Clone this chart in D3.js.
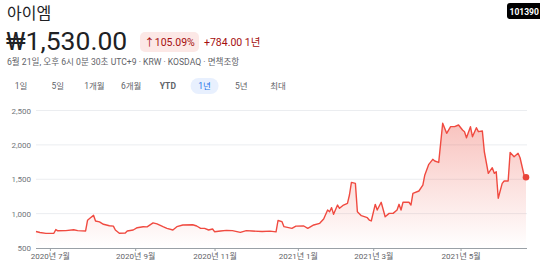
<!DOCTYPE html>
<html>
<head>
<meta charset="utf-8">
<script src="https://cdn.jsdelivr.net/npm/d3@7"></script>
<style>
  html, body { margin: 0; padding: 0; background: #fff; }
  svg { display: block; font-family: Roboto, "Noto Sans CJK KR", sans-serif; }
</style>
</head>
<body>
<div id="chart"></div>
<script>
// --- data ---------------------------------------------------------------
const title = '아이엠';
const price = '₩1,530.00';
const changePct = '↑105.09%';
const changeAbs = '+784.00 1년';
const ticker = '101390';
const subline = '6월 21일, 오후 6시 0분 30초 UTC+9 · KRW · KOSDAQ · 면책조항';
const ranges = ['1일', '5일', '1개월', '6개월', 'YTD', '1년', '5년', '최대'];
const activeRange = '1년';

const firstDay = '2020-06-22';
const lastDay = '2021-06-21';
// KRX closed days inside the window
const holidays = ['2020-08-17', '2020-09-30', '2020-10-01', '2020-10-02', '2020-10-09',
  '2020-12-25', '2020-12-31', '2021-01-01', '2021-02-11', '2021-02-12', '2021-03-01',
  '2021-05-05', '2021-05-19'];

const yTicks = [500, 1000, 1500, 2000, 2500];
const monthTicks = ['2020-07-01', '2020-09-01', '2020-11-01', '2021-01-01', '2021-03-01', '2021-05-01'];
const monthLabels = ['2020년 7월', '2020년 9월', '2020년 11월', '2021년 1월', '2021년 3월', '2021년 5월'];

const dates = [
  '2020-06-22', '2020-06-24', '2020-06-29', '2020-07-03', '2020-07-06', '2020-07-07', '2020-07-13',
  '2020-07-17', '2020-07-21', '2020-07-27', '2020-07-28', '2020-07-29', '2020-07-31', '2020-08-03',
  '2020-08-05', '2020-08-07', '2020-08-12', '2020-08-14', '2020-08-18', '2020-08-20', '2020-08-25',
  '2020-08-26', '2020-08-31', '2020-09-02', '2020-09-07', '2020-09-09', '2020-09-14', '2020-09-16',
  '2020-09-21', '2020-09-23', '2020-09-28', '2020-10-05', '2020-10-08', '2020-10-16', '2020-10-20',
  '2020-10-22', '2020-10-26', '2020-10-28', '2020-10-30', '2020-11-02', '2020-11-05', '2020-11-10',
  '2020-11-13', '2020-11-19', '2020-11-24', '2020-11-27', '2020-12-04', '2020-12-10', '2020-12-15',
  '2020-12-16', '2020-12-18', '2020-12-21', '2020-12-28', '2020-12-30', '2021-01-07', '2021-01-11',
  '2021-01-14', '2021-01-19', '2021-01-21', '2021-01-25', '2021-01-26', '2021-01-27', '2021-01-28',
  '2021-02-01', '2021-02-02', '2021-02-04', '2021-02-08', '2021-02-09', '2021-02-10', '2021-02-16',
  '2021-02-17', '2021-02-19', '2021-02-24', '2021-02-25', '2021-02-26', '2021-03-03', '2021-03-04',
  '2021-03-08', '2021-03-10', '2021-03-12', '2021-03-16', '2021-03-18', '2021-03-19', '2021-03-22',
  '2021-03-23', '2021-03-26', '2021-03-29', '2021-03-30', '2021-04-02', '2021-04-06', '2021-04-07',
  '2021-04-09', '2021-04-13', '2021-04-14', '2021-04-16', '2021-04-20', '2021-04-22', '2021-04-26',
  '2021-04-28', '2021-04-30', '2021-05-04', '2021-05-06', '2021-05-07', '2021-05-11', '2021-05-12',
  '2021-05-14', '2021-05-17', '2021-05-20', '2021-05-21', '2021-05-25', '2021-05-27', '2021-05-28',
  '2021-05-31', '2021-06-01', '2021-06-03', '2021-06-04', '2021-06-08', '2021-06-09', '2021-06-11',
  '2021-06-15', '2021-06-16', '2021-06-18', '2021-06-21'
];
const closes = [
  740, 725, 712, 715, 768, 750, 752,
  765, 752, 748, 905, 930, 975, 893,
  880, 845, 824, 818, 762, 714, 718,
  747, 762, 795, 810, 808, 865, 850,
  810, 786, 762, 810, 835, 838, 820,
  786, 786, 762, 776, 737, 747, 757,
  752, 728, 752, 747, 740, 745, 735,
  900, 883, 810, 786, 818, 820, 786,
  835, 859, 922, 1053, 1028, 1087, 990,
  1125, 1077, 1125, 1150, 1271, 1455, 1440,
  1028, 970, 941, 907, 893, 1135, 1053,
  1165, 955, 1004, 1004, 1053, 1135, 1053,
  1165, 1165, 1125, 1295, 1329, 1416, 1562,
  1717, 1790, 1765, 1745, 2314, 2168, 2265,
  2265, 2289, 2216, 2192, 2104, 2265, 2119,
  2250, 2192, 2202, 1900, 1586, 1668, 1586,
  1610, 1223, 1440, 1475, 1475, 1890, 1828,
  1877, 1813, 1562, 1530
];

// --- trading calendar ---------------------------------------------------
const iso = d3.utcFormat('%Y-%m-%d');
const tradingDays = d3.utcDays(new Date(firstDay), d3.utcDay.offset(new Date(lastDay), 1))
  .filter(d => d.getUTCDay() !== 0 && d.getUTCDay() !== 6 && !holidays.includes(iso(d)))
  .map(iso);
const dayIndex = new Map(tradingDays.map((d, i) => [d, i]));
const firstOnOrAfter = day => tradingDays.findIndex(d => d >= day);

const series = dates.map((d, i) => ({ idx: dayIndex.get(d), value: closes[i] }));

// --- drawing ------------------------------------------------------------
const width = 540, height = 265;
const svg = d3.select('#chart').append('svg')
  .attr('width', width)
  .attr('height', height);

// header
svg.append('text').attr('x', 7).attr('y', 19)
  .attr('font-size', 16).attr('fill', '#202124').text(title);
svg.append('text').attr('x', 6).attr('y', 50)
  .attr('font-size', 26.5).attr('fill', '#202124').text(price);

svg.append('rect').attr('x', 140).attr('y', 32).attr('width', 59).attr('height', 20)
  .attr('rx', 5).attr('fill', '#fce8e6');
svg.append('text').attr('x', 169.5).attr('y', 46)
  .attr('text-anchor', 'middle').attr('font-size', 10.5).attr('fill', '#a50e0e').text(changePct);
svg.append('text').attr('x', 204).attr('y', 46)
  .attr('font-size', 10.5).attr('fill', '#a50e0e').text(changeAbs);

svg.append('rect').attr('x', 507).attr('y', 3).attr('width', 40).attr('height', 16)
  .attr('rx', 3).attr('fill', '#000');
svg.append('text').attr('x', 509.5).attr('y', 14.5)
  .attr('font-size', 8.5).attr('font-weight', 'bold').attr('fill', '#fff').text(ticker);

svg.append('text').attr('x', 7).attr('y', 65)
  .attr('font-size', 8.6).attr('fill', '#5f6368').text(subline);

const tabX = d3.scalePoint().domain(ranges).range([21, 278]);
const tabs = svg.append('g');
tabs.append('rect')
  .attr('x', tabX(activeRange) - 14).attr('y', 78).attr('width', 28).attr('height', 16)
  .attr('rx', 8).attr('fill', '#e8f0fe');
tabs.selectAll('text.tab')
  .data(ranges)
  .enter()
  .append('text')
  .attr('class', 'tab')
  .attr('x', d => tabX(d))
  .attr('y', 89)
  .attr('text-anchor', 'middle')
  .attr('font-size', 8.5)
  .attr('font-weight', d => d === 'YTD' ? 'bold' : 'normal')
  .attr('fill', d => d === activeRange ? '#1a73e8' : '#5f6368')
  .text(d => d);

// chart
const x = d3.scaleLinear().domain([0, tradingDays.length - 1]).range([36, 526]);
const y = d3.scaleLinear().domain([500, 2500]).range([248, 110.5]);

const grid = svg.append('g');
grid.selectAll('line')
  .data(yTicks.slice(1))
  .enter()
  .append('line')
  .attr('x1', 36).attr('x2', 527)
  .attr('y1', d => y(d)).attr('y2', d => y(d))
  .attr('stroke', '#ebedf0').attr('stroke-width', 1);

const yAxis = svg.append('g').attr('transform', 'translate(31,0)')
  .call(d3.axisLeft(y).tickValues(yTicks).tickSize(0).tickPadding(0).tickFormat(d3.format(',')));
yAxis.select('.domain').remove();
yAxis.selectAll('text').attr('font-size', 8).attr('fill', '#70757a')
  .attr('font-family', 'Roboto, sans-serif');

const xAxis = svg.append('g').attr('transform', `translate(0,${y(500)})`)
  .call(d3.axisBottom(x)
    .tickValues(monthTicks.map(firstOnOrAfter))
    .tickSize(3).tickPadding(2)
    .tickFormat((d, i) => monthLabels[i]));
xAxis.select('.domain').attr('d', `M36,0.5H527`).attr('stroke', '#9aa0a6');
xAxis.selectAll('.tick line').attr('stroke', '#9aa0a6');
xAxis.selectAll('text').attr('font-size', 8).attr('fill', '#5f6368')
  .attr('font-family', 'Roboto, "Noto Sans CJK KR", sans-serif');

const defs = svg.append('defs');
const grad = defs.append('linearGradient')
  .attr('id', 'fillGrad')
  .attr('gradientUnits', 'userSpaceOnUse')
  .attr('x1', 0).attr('x2', 0)
  .attr('y1', y(d3.max(closes))).attr('y2', y(500));
grad.append('stop').attr('offset', 0).attr('stop-color', '#ea4335').attr('stop-opacity', 0.32);
grad.append('stop').attr('offset', 1).attr('stop-color', '#ea4335').attr('stop-opacity', 0);

svg.append('path')
  .datum(series)
  .attr('fill', 'url(#fillGrad)')
  .attr('d', d3.area().x(d => x(d.idx)).y0(y(500)).y1(d => y(d.value)));

svg.append('path')
  .datum(series)
  .attr('fill', 'none')
  .attr('stroke', '#f04a40')
  .attr('stroke-width', 1.4)
  .attr('stroke-linejoin', 'round')
  .attr('d', d3.line().x(d => x(d.idx)).y(d => y(d.value)));

const last = series[series.length - 1];
svg.append('circle')
  .attr('cx', x(last.idx)).attr('cy', y(last.value)).attr('r', 3.3)
  .attr('fill', '#e8443a');
</script>
</body>
</html>
